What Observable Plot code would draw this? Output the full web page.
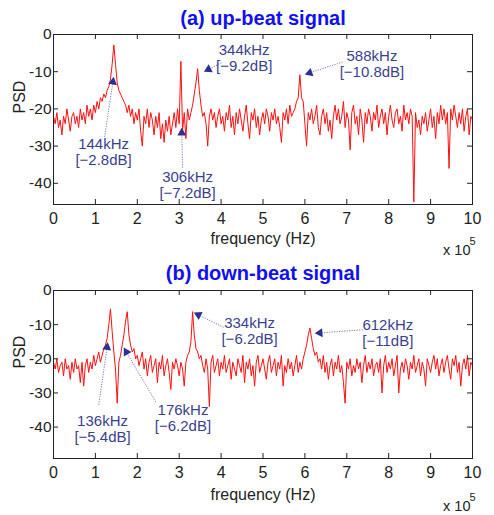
<!DOCTYPE html>
<html><head><meta charset="utf-8">
<script src="https://cdn.jsdelivr.net/npm/d3@7"></script>
<script src="https://cdn.jsdelivr.net/npm/@observablehq/plot@0.6"></script>
<style>
body{margin:0;background:#fff;}
#chart{width:494px;}
svg{display:block;}
</style></head><body><div id="chart"></div>
<script>
// frequency bin width in kHz (spectrum samples every 4 kHz, 0 .. 1000 kHz)
const binKHz = 4;

// (a) up-beat PSD [dB], one value per 4 kHz bin
const psdUp = [
-22,-24,-21,-25,-23,-27,-22,-24,-20,-23,-26,-22,-21,-24,-22,-25,-20,-23,-21,-24,
-19,-22,-20,-23,-19,-21,-18,-20,-17,-18,-16,-17,-15,-14,-12,-8,-2.8,-8,-13,-15,
-16,-17,-18,-19,-21,-19,-22,-20,-24,-21,-23,-20,-26,-30,-22,-24,-20,-25,-21,-23,
-27,-22,-25,-21,-28,-24,-29,-23,-26,-22,-27,-24,-21,-25,-20,-24,-7.2,-26,-21,-28,
-20,-23,-21,-19,-16,-13,-9.2,-15,-19,-22,-21,-24,-30,-22,-20,-23,-21,-25,-22,-20,
-24,-22,-26,-21,-23,-19,-25,-22,-27,-21,-24,-20,-23,-26,-22,-19,-24,-28,-21,-23,
-20,-25,-22,-27,-23,-21,-24,-20,-22,-26,-21,-23,-20,-24,-22,-25,-29,-21,-23,-20,
-24,-19,-22,-21,-20,-18,-17,-10.8,-17,-18,-24,-30,-21,-23,-20,-24,-22,-19,-25,-27,
-22,-20,-24,-21,-26,-23,-28,-22,-19,-23,-20,-24,-22,-18,-25,-21,-23,-31,-21,-19,
-24,-22,-27,-20,-23,-29,-21,-24,-20,-22,-26,-21,-23,-19,-25,-22,-20,-24,-21,-27,
-22,-19,-23,-25,-21,-20,-24,-22,-26,-19,-23,-21,-24,-20,-22,-45,-21,-25,-23,-27,
-22,-24,-21,-26,-23,-20,-25,-22,-28,-21,-24,-19,-23,-20,-24,-21,-36,-20,-23,-19,
-22,-25,-21,-24,-20,-26,-22,-20,-27,-22,-23
];

// (b) down-beat PSD [dB], one value per 4 kHz bin
const psdDown = [
-21,-23,-20,-24,-22,-21,-25,-20,-23,-22,-26,-21,-24,-20,-23,-22,-27,-21,-28,-22,
-20,-24,-21,-23,-19,-22,-20,-18,-21,-19,-17,-16,-14,-10,-5.4,-12,-18,-23,-33,-21,
-19,-16,-13,-9,-6.2,-13,-16,-18,-17,-20,-19,-22,-20,-18,-23,-20,-25,-21,-19,-24,
-22,-20,-27,-21,-23,-19,-25,-22,-20,-24,-29,-21,-23,-20,-22,-25,-21,-23,-28,-21,
-19,-18,-15,-6.2,-13,-17,-18,-20,-19,-22,-24,-20,-23,-34,-21,-19,-24,-22,-20,-25,
-21,-23,-19,-24,-22,-20,-26,-21,-23,-25,-20,-22,-24,-19,-27,-21,-23,-20,-25,-22,
-28,-21,-19,-24,-22,-20,-23,-26,-21,-19,-24,-22,-20,-25,-21,-23,-19,-28,-22,-24,
-20,-23,-21,-25,-22,-19,-24,-21,-23,-20,-18,-16,-13,-11,-14,-17,-19,-18,-21,-20,
-23,-19,-24,-21,-26,-22,-20,-25,-21,-23,-19,-24,-22,-27,-33,-21,-23,-20,-25,-22,
-24,-20,-23,-21,-27,-22,-19,-24,-21,-23,-20,-25,-22,-21,-24,-20,-30,-22,-19,-24,
-21,-23,-20,-25,-22,-19,-30,-23,-21,-24,-20,-22,-26,-21,-23,-19,-24,-22,-20,-25,
-21,-23,-28,-20,-22,-24,-21,-19,-23,-20,-25,-22,-20,-24,-21,-19,-23,-26,-20,-22,
-19,-24,-21,-28,-22,-20,-23,-19,-25,-21,-22
];

// axis ticks (x in kHz, labels in units of 10^5 Hz)
const xTicks = [0,100,200,300,400,500,600,700,800,900,1000];
const xTickLabels = ["0","1","2","3","4","5","6","7","8","9","10"];
const yTicks = [0,-10,-20,-30,-40];

const titles = ["(a) up-beat signal", "(b) down-beat signal"];
const xLabel = "frequency (Hz)";
const yLabel = "PSD";

// annotations: [kHz, dB]
const upLabels = ["144kHz\n[\u22122.8dB]", "306kHz\n[\u22127.2dB]", "344kHz\n[\u22129.2dB]", "588kHz\n[\u221210.8dB]"];
const upLabelAt = [[119.5,-31.5],[320,-40.3],[455,-6.2],[760,-7.8]];
const upArrowFrom = [[122,-27.5],[308,-35.8],[401,-7.6],[690,-7.4]];
const upArrowTo = [[143,-11.9],[306,-25.6],[363,-9.8],[604,-10.6]];

const downLabels = ["136kHz\n[\u22125.4dB]", "176kHz\n[\u22126.2dB]", "334kHz\n[\u22126.2dB]", "612kHz\n[\u221211dB]"];
const downLabelAt = [[117,-40.4],[309,-37.2],[468,-11.7],[798,-12.3]];
const downArrowFrom = [[108,-33.5],[244,-32.6],[406,-10.8],[738,-11.5]];
const downArrowTo = [[129,-15.7],[170,-17.2],[339,-6.7],[628,-12.5]];

const W = 494, ML = 53, MR = 22;
const FONT = "'Liberation Sans', Arial, Helvetica, sans-serif";
const NARROW = "'Liberation Sans Narrow', 'Arial Narrow', 'Liberation Sans', Arial, sans-serif";

function panel(values, labels, labelAt, from, to, title, o) {
  const fw = W - ML - MR;
  const fh = o.height - o.mt - o.mb;
  const kx = fw / 1000, ky = fh / (0 - o.ymin);
  const data = values.map((v, i) => ({f: i * binKHz, v}));
  const ann = labels.map((t, i) => {
    const [sx, sy] = from[i], [hx, hy] = to[i];
    const dxp = (hx - sx) * kx, dyp = -(hy - sy) * ky;
    const len = Math.hypot(dxp, dyp), ux = dxp / len, uy = dyp / len;
    const back = 3.2;
    return {
      label: t, tx: labelAt[i][0], ty: labelAt[i][1],
      sx, sy, hx, hy,
      cx: hx - ux * back / kx, cy: hy + uy * back / ky,
      rot: Math.atan2(dxp, -dyp) * 180 / Math.PI
    };
  });
  return Plot.plot({
    width: W, height: o.height,
    marginLeft: ML, marginRight: MR, marginTop: o.mt, marginBottom: o.mb,
    style: {fontFamily: FONT, background: "#fff", color: "#222"},
    x: {domain: [0, 1000], axis: null},
    y: {domain: [o.ymin, 0], axis: null},
    marks: [
      Plot.line(data, {x: "f", y: "v", stroke: "#ff1010", strokeWidth: 1}),
      Plot.frame({stroke: "#222", strokeWidth: 1}),
      Plot.tickX(xTicks, {x: d => d, insetTop: fh - 5, stroke: "#222"}),
      Plot.tickX(xTicks, {x: d => d, insetBottom: fh - 5, stroke: "#222"}),
      Plot.tickY(yTicks, {y: d => d, insetRight: fw - 5, stroke: "#222"}),
      Plot.tickY(yTicks, {y: d => d, insetLeft: fw - 5, stroke: "#222"}),
      Plot.axisX(xTicks, {tickSize: 0, tickPadding: 8, fontSize: 16, label: null,
        tickFormat: d => xTickLabels[xTicks.indexOf(d)]}),
      Plot.axisY(yTicks, {tickSize: 0, tickPadding: 2, fontSize: 15.5, label: null,
        tickFormat: d => String(d)}),
      Plot.text([xLabel], {text: d => d, frameAnchor: "bottom", lineAnchor: "top", dy: o.xlDy, fontSize: 16, fill: "#222"}),
      Plot.text(["x 10"], {text: d => d, frameAnchor: "bottom-right", textAnchor: "end", lineAnchor: "top", dy: o.xlDy + 12, dx: -2, fontSize: 14.5, fill: "#222"}),
      Plot.text(["5"], {text: d => d, frameAnchor: "bottom-right", textAnchor: "start", lineAnchor: "top", dy: o.xlDy + 5, dx: -3, fontSize: 11, fill: "#222"}),
      Plot.text([yLabel], {text: d => d, frameAnchor: "left", rotate: -90, dx: -34, dy: -6, fontSize: 16, fill: "#222"}),
      Plot.text([title], {text: d => d, frameAnchor: "top", lineAnchor: "bottom", dy: o.titleDy, fontSize: 20, fontWeight: "bold", fill: "#1010f0"}),
      Plot.link(ann, {x1: "sx", y1: "sy", x2: "cx", y2: "cy", stroke: "#6f7cc4", strokeWidth: 1, strokeDasharray: "1.2,1.3"}),
      Plot.dot(ann, {x: "cx", y: "cy", symbol: "triangle", r: 3.3, rotate: "rot", fill: "#2a3192", stroke: "none"}),
      Plot.text(ann, {x: "tx", y: "ty", text: "label", lineAnchor: "middle", lineHeight: 1.08, fontSize: 15, fontFamily: NARROW, fill: "#3b3f8e"})
    ]
  });
}

const chart = document.getElementById("chart");
chart.append(panel(psdUp, upLabels, upLabelAt, upArrowFrom, upArrowTo, titles[0],
  {height: 257, mt: 34, mb: 53, ymin: -45.7, titleDy: -10, xlDy: 28}));
chart.append(panel(psdDown, downLabels, downLabelAt, downArrowFrom, downArrowTo, titles[1],
  {height: 258, mt: 33, mb: 57, ymin: -49.2, titleDy: -11, xlDy: 30}));
</script></body></html>
